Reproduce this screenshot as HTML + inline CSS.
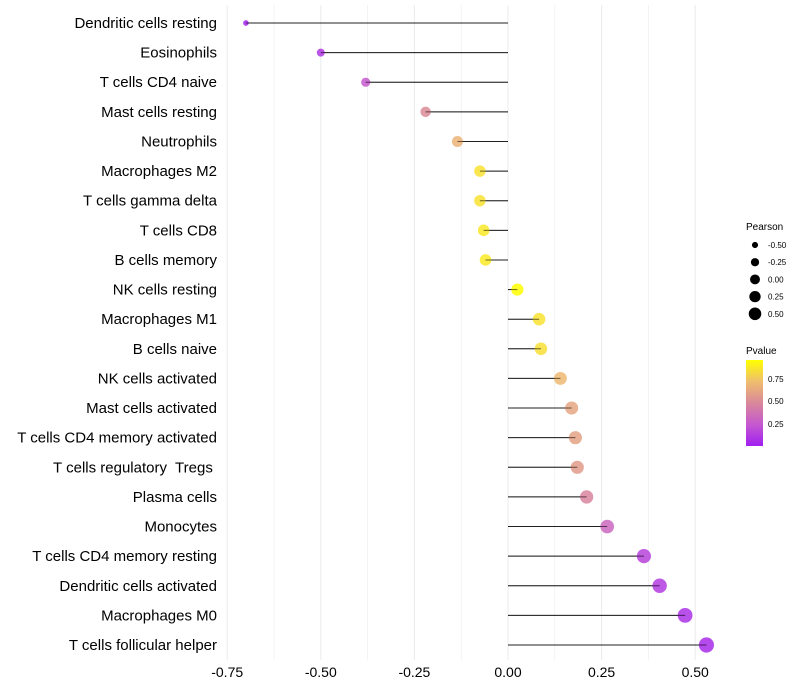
<!DOCTYPE html>
<html><head><meta charset="utf-8"><style>
body{margin:0;background:#fff;}
svg{display:block;font-family:"Liberation Sans",sans-serif;}
text{white-space:pre;}
</style></head><body>
<svg id="chart" width="800" height="700">
<defs><linearGradient id="pg" x1="0" y1="1" x2="0" y2="0">
<stop offset="0" stop-color="#a020f0"/><stop offset="0.25" stop-color="#c558d0"/>
<stop offset="0.5" stop-color="#d9889a"/><stop offset="0.75" stop-color="#efbe6e"/><stop offset="1" stop-color="#ffff00"/>
</linearGradient></defs>
<g id="grid"></g><g id="marks"></g><g id="ylabels"></g><g id="xlabels"></g>
<g id="sizeleg">
<text x="746" y="230" font-size="10" fill="#000">Pearson</text>
</g>
<g>
<text x="746" y="354" font-size="10" fill="#000">Pvalue</text>
<rect x="746" y="360" width="17" height="86" fill="url(#pg)"/>
<text x="768" y="382" font-size="8">0.75</text>
<text x="768" y="404" font-size="8">0.50</text>
<text x="768" y="427" font-size="8">0.25</text>
</g>
</svg>
<script>
const categories=["Dendritic cells resting","Eosinophils","T cells CD4 naive","Mast cells resting","Neutrophils","Macrophages M2","T cells gamma delta","T cells CD8","B cells memory","NK cells resting","Macrophages M1","B cells naive","NK cells activated","Mast cells activated","T cells CD4 memory activated","T cells regulatory  Tregs ","Plasma cells","Monocytes","T cells CD4 memory resting","Dendritic cells activated","Macrophages M0","T cells follicular helper"];
const pearson=[-0.70,-0.50,-0.38,-0.22,-0.135,-0.075,-0.075,-0.065,-0.06,0.025,0.083,0.088,0.14,0.17,0.18,0.185,0.21,0.265,0.363,0.405,0.473,0.53];
const pvalue=[0.02,0.1,0.25,0.5,0.68,0.86,0.86,0.88,0.89,0.97,0.86,0.85,0.7,0.62,0.6,0.57,0.47,0.32,0.15,0.12,0.08,0.05];
const xTicks=[-0.75,-0.5,-0.25,0,0.25,0.5];
const xTickLabels=["-0.75","-0.50","-0.25","0.00","0.25","0.50"];
const legendVals=[-0.5,-0.25,0,0.25,0.5];
const legendLabels=["-0.50","-0.25","0.00","0.25","0.50"];
const NS="http://www.w3.org/2000/svg";
function X(v){return 508+v*374.4;}
function Y(i){return 23+i*(622/(categories.length-1));}
function R(v){return Math.sqrt(Math.max(36+40*v,4));}
function RL(v){return Math.sqrt(Math.max(24.5+30*v,2));}
const stops=[[0,[160,32,240]],[0.25,[197,88,208]],[0.5,[217,136,154]],[0.75,[239,190,110]],[1,[255,255,0]]];
function C(p){p=Math.min(1,Math.max(0,p/0.97));for(let k=1;k<stops.length;k++){if(p<=stops[k][0]){const a=stops[k-1],b=stops[k],t=(p-a[0])/(b[0]-a[0]);return 'rgb('+a[1].map((c,j)=>Math.round(c+(b[1][j]-c)*t)).join(',')+')';}}return 'rgb(255,255,0)';}
function mk(tag,attrs,parent){const e=document.createElementNS(NS,tag);for(const k in attrs)e.setAttribute(k,attrs[k]);parent.appendChild(e);return e;}
const grid=document.getElementById('grid'),marks=document.getElementById('marks'),yl=document.getElementById('ylabels'),xl=document.getElementById('xlabels');
for(let v=-0.875;v<=0.6;v+=0.125){const x=X(v);if(x<215||x>725)continue;
 const g=mk('line',{x1:x,x2:x,y1:5,y2:660,stroke:'#ebebeb','stroke-width':Math.abs(v*4-Math.round(v*4))<1e-6?1:0.6},grid);
 
 }
xTicks.forEach((v,i)=>{const t=mk('text',{x:X(v),y:677,'font-size':14,'text-anchor':'middle',fill:'#000'},xl);t.textContent=xTickLabels[i];
 
 });
categories.forEach((c,i)=>{const y=Y(i);
 const t=mk('text',{x:217,y:y+5,'font-size':15,'text-anchor':'end',fill:'#000'},yl);t.textContent=c;
 
 
 const l=mk('line',{x1:X(0),x2:X(pearson[i]),y1:y,y2:y,stroke:'#000','stroke-width':1,'stroke-opacity':0.75},marks);
 
 
 const d=mk('circle',{cx:X(pearson[i]),cy:y,r:R(pearson[i]),fill:C(pvalue[i]),'fill-opacity':0.85},marks);
 
 
 const l2=mk('line',{x1:X(0),x2:X(pearson[i]),y1:y,y2:y,stroke:'#000','stroke-width':1,'stroke-opacity':0.5},marks);
 
 
});
const sl=document.getElementById('sizeleg');
legendVals.forEach((v,i)=>{const y=245+i*17.2;
 const c=mk('circle',{cx:755,cy:y,r:RL(v),fill:'#000'},sl);
 
 
 const t=mk('text',{x:768,y:y+3,'font-size':8,fill:'#000'},sl);t.textContent=legendLabels[i];
 
 });
</script>
</body></html>
